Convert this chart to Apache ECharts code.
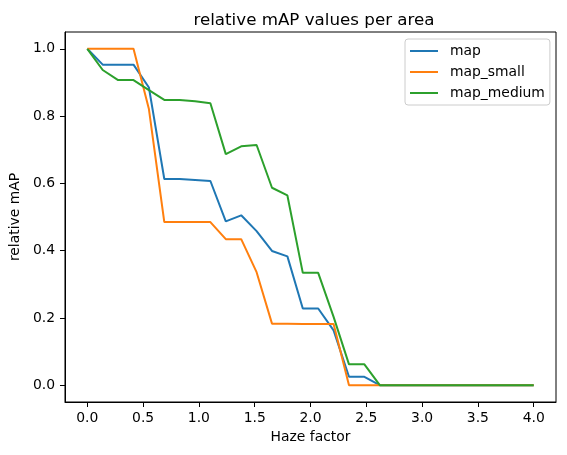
<!DOCTYPE html>
<html>
<head>
<meta charset="utf-8">
<script src="https://cdn.jsdelivr.net/npm/echarts@6/dist/echarts.min.js"></script>
<style>
  html, body { margin: 0; padding: 0; background: #fff; }
  #chart { width: 567px; height: 455px; }
</style>
</head>
<body>
<div id="chart"></div>
<script>
// haze factor steps (30 points, 0 .. 4)
const hazeFactor = [0, 0.138, 0.276, 0.414, 0.552, 0.690, 0.828, 0.966, 1.103, 1.241,
  1.379, 1.517, 1.655, 1.793, 1.931, 2.069, 2.207, 2.345, 2.483, 2.621,
  2.759, 2.897, 3.034, 3.172, 3.310, 3.448, 3.586, 3.724, 3.862, 4.0];

const mapAll = [1.0, 0.953, 0.953, 0.953, 0.885, 0.613, 0.613, 0.610, 0.607, 0.487,
  0.505, 0.458, 0.399, 0.383, 0.228, 0.228, 0.163, 0.025, 0.025, 0,
  0, 0, 0, 0, 0, 0, 0, 0, 0, 0];
const mapSmall = [1.0, 1.0, 1.0, 1.0, 0.821, 0.485, 0.485, 0.485, 0.485, 0.434,
  0.434, 0.336, 0.183, 0.183, 0.182, 0.182, 0.182, 0, 0, 0,
  0, 0, 0, 0, 0, 0, 0, 0, 0, 0];
const mapMedium = [1.0, 0.937, 0.907, 0.907, 0.877, 0.848, 0.848, 0.844, 0.838, 0.687,
  0.710, 0.714, 0.587, 0.564, 0.334, 0.334, 0.203, 0.062, 0.062, 0,
  0, 0, 0, 0, 0, 0, 0, 0, 0, 0];

const xTicks = [0, 0.5, 1.0, 1.5, 2.0, 2.5, 3.0, 3.5, 4.0];
const yTicks = [0, 0.2, 0.4, 0.6, 0.8, 1.0];

const font = "DejaVu Sans";
const fs = 13.9;

function pairs(ys) {
  return hazeFactor.map((x, i) => [x, ys[i]]);
}

function line(name, ys, color) {
  return {
    name: name,
    type: "line",
    data: pairs(ys),
    showSymbol: false,
    symbol: "none",
    lineStyle: { color: color, width: 2 },
    itemStyle: { color: color },
    animation: false
  };
}

let myChart = echarts.init(document.getElementById("chart"), null, { renderer: "canvas" });
let option = {
  backgroundColor: "#fff",
  title: {
    text: "relative mAP values per area",
    left: 309,
    top: 7,
    textAlign: "center",
    textStyle: { fontFamily: font, fontSize: 16.7, fontWeight: "normal", color: "#000" }
  },
  legend: {
    orient: "vertical",
    left: 405,
    top: 39,
    padding: [4, 5, 4, 5],
    itemGap: 5,
    itemWidth: 28,
    itemHeight: 2,
    icon: "rect",
    backgroundColor: "#fff",
    borderColor: "#cccccc",
    borderWidth: 1,
    borderRadius: 3,
    textStyle: { fontFamily: font, fontSize: fs, color: "#000", lineHeight: 16, padding: [0, 0, 0, 7] },
    data: ["map", "map_small", "map_medium"]
  },
  grid: {
    left: 62,
    right: 11,
    top: 32,
    bottom: 53,
    show: true,
    borderColor: "#000",
    borderWidth: 1
  },
  xAxis: {
    type: "value",
    min: -0.2,
    max: 4.2,
    name: "Haze factor",
    nameLocation: "middle",
    nameGap: 26,
    nameTextStyle: { fontFamily: font, fontSize: fs, color: "#000" },
    axisLine: { show: true, onZero: false, lineStyle: { color: "#000", width: 1 } },
    axisTick: { show: true, length: 5, customValues: xTicks, lineStyle: { color: "#000" } },
    axisLabel: {
      customValues: xTicks,
      margin: 9,
      fontFamily: font,
      fontSize: fs,
      color: "#000",
      formatter: v => v.toFixed(1)
    },
    splitLine: { show: false }
  },
  yAxis: {
    type: "value",
    min: -0.05,
    max: 1.05,
    name: "relative mAP",
    nameLocation: "middle",
    nameGap: 39,
    nameTextStyle: { fontFamily: font, fontSize: fs, color: "#000" },
    axisLine: { show: true, onZero: false, lineStyle: { color: "#000", width: 1 } },
    axisTick: { show: true, length: 5, customValues: yTicks, lineStyle: { color: "#000" } },
    axisLabel: {
      customValues: yTicks,
      margin: 10,
      fontFamily: font,
      fontSize: fs,
      color: "#000",
      formatter: v => v.toFixed(1)
    },
    splitLine: { show: false }
  },
  series: [
    line("map", mapAll, "#1f77b4"),
    line("map_small", mapSmall, "#ff7f0e"),
    line("map_medium", mapMedium, "#2ca02c")
  ]
};
myChart.setOption(option);
window.addEventListener("resize", function() {
  myChart.resize();
});
</script>
</body>
</html>
